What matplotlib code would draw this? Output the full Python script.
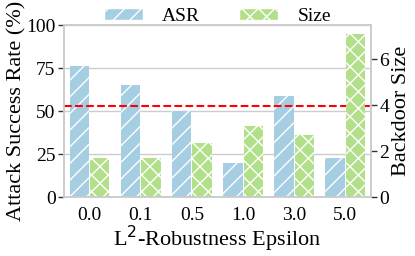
import numpy as np
import matplotlib.pyplot as plt
from matplotlib.patches import Patch

eps_labels = ['0.0', '0.1', '0.5', '1.0', '3.0', '5.0']
asr = [76, 65, 50, 20, 59, 23]
size = [1.7, 1.7, 2.35, 3.1, 2.7, 7.1]
threshold = 53

plt.rcParams['font.family'] = ['Liberation Serif', 'DejaVu Serif']
plt.rcParams['font.size'] = 14
plt.rcParams['hatch.color'] = 'white'
plt.rcParams['hatch.linewidth'] = 1.0

blue = '#a6cee3'
green = '#b2df8a'

fig = plt.figure(figsize=(4.15, 2.56), dpi=100)
ax = fig.add_axes([0.154, 0.230, 0.740, 0.672])
ax2 = ax.twinx()

x = np.arange(len(eps_labels))
w = 0.38
ax.bar(x - 0.2, asr, w, color=blue, hatch='//', edgecolor='white', linewidth=0, zorder=2)
ax2.bar(x + 0.2, size, w, color=green, hatch='xx', edgecolor='white', linewidth=0, zorder=2)
ax.axhline(threshold, color='red', linestyle='--', linewidth=1.5, zorder=3)

ax.set_xlim(-0.5, 5.5)
ax.set_ylim(0, 100)
ax.set_yticks([0, 25, 50, 75, 100])
ax2.set_ylim(0, 7.48)
ax2.set_yticks([0, 2, 4, 6])
ax.set_xticks(x)
ax.set_xticklabels(eps_labels)
ax.yaxis.grid(True, color='#cccccc', linewidth=1, zorder=0)
ax.set_axisbelow(True)

for a in (ax, ax2):
    for s in a.spines.values():
        s.set_color('#cccccc')
        s.set_linewidth(1.2)
    a.tick_params(axis='y', length=4, width=1, color='#333333', pad=2)
ax.tick_params(axis='x', length=0, pad=7)

ax.set_ylabel('Attack Success Rate (%)', fontsize=16, labelpad=0)
ax2.set_ylabel('Backdoor Size', fontsize=16, labelpad=2)
ax.set_xlabel('L$^2$-Robustness Epsilon', fontsize=16, labelpad=0)

handles = [Patch(facecolor=blue, hatch='//', edgecolor='white', label='ASR'),
           Patch(facecolor=green, hatch='xx', edgecolor='white', label='Size')]
ax.legend(handles=handles, ncol=2, frameon=False, loc='lower center',
          bbox_to_anchor=(0.5, 0.955), columnspacing=2.0, handlelength=2.0,
          handleheight=0.6, handletextpad=1.0, borderaxespad=0)

fig.savefig('out.png', dpi=100)
